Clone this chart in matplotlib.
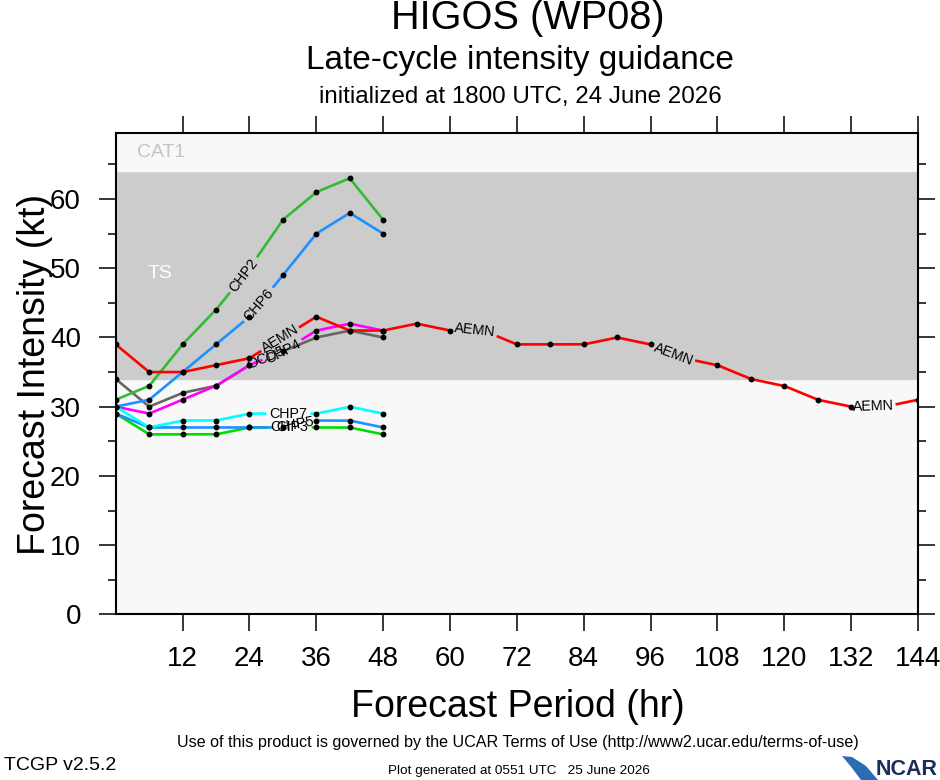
import numpy as np
import matplotlib
matplotlib.use("Agg")
import matplotlib.pyplot as plt
from matplotlib.patches import Polygon

plt.rcParams['font.family'] = ['Liberation Sans', 'DejaVu Sans']

# forecast hours
hours = [0, 6, 12, 18, 24, 30, 36, 42, 48]
hours_aemn = list(range(0, 145, 6))

# intensity (kt)
aemn = [39, 35, 35, 36, 37, 40, 43, 41, 41, 42, 41, 41, 39,
        39, 39, 40, 39, 37, 36, 34, 33, 31, 30, 30, 31]
chp2 = [31, 33, 39, 44, 50, 57, 61, 63, 57]
chp6 = [30, 31, 35, 39, 43, 49, 55, 58, 55]
chp4 = [30, 29, 31, 33, 36, 38, 41, 42, 41]
ocd5 = [34, 30, 32, 33, 36, 38, 40, 41, 40]
chp7 = [30, 27, 28, 28, 29, 29, 29, 30, 29]
chp5 = [29, 27, 27, 27, 27, 27, 28, 28, 27]
chp3 = [29, 26, 26, 26, 27, 27, 27, 27, 26]

# (name, hours, values, colour, label positions in hours)
models = [
    ("OCD5", hours, ocd5, "#666666", [27]),
    ("CHP4", hours, chp4, "#ff00ff", [30]),
    ("CHP3", hours, chp3, "#00dd00", [31.2]),
    ("CHP5", hours, chp5, "#1e90ff", [32.2]),
    ("CHP7", hours, chp7, "#00ffff", [31]),
    ("CHP6", hours, chp6, "#1e90ff", [25.7]),
    ("CHP2", hours, chp2, "#33bb33", [23]),
    ("AEMN", hours_aemn, aemn, "#ff0000", [29.5, 64.5, 100.2, 136]),
]

xticks = list(range(12, 145, 12))
yticks = list(range(0, 61, 10))

fig = plt.figure(figsize=(9.4, 7.8), dpi=100)
ax = fig.add_axes([0.1231, 0.2124, 0.8535, 0.6167])
ax.set_xlim(0, 144)
ax.set_ylim(0, 69.5)

# intensity category bands
ax.axhspan(0, 34, color="#f8f8f8", zorder=0)
ax.axhspan(34, 64, color="#cccccc", zorder=0)
ax.axhspan(64, 70, color="#f8f8f8", zorder=0)
ax.text(3.8, 66.7, "CAT1", color="#c4c4c4", fontsize=14, va="center", ha="left")
ax.text(5.8, 49.3, "TS", color="white", fontsize=14, va="center", ha="left")

GAP_PX = 22


def draw_model(name, x, y, color, lab_xs):
    x = np.asarray(x, float)
    y = np.asarray(y, float)
    xs = np.linspace(x[0], x[-1], 3000)
    ys = np.interp(xs, x, y)
    pix = ax.transData.transform(np.column_stack([xs, ys]))
    pts = ax.transData.transform(np.column_stack([x, y]))
    ys_line = ys.copy()
    keep = np.ones(len(x), bool)
    centers = []
    for lx in lab_xs:
        ly = np.interp(lx, x, y)
        c = ax.transData.transform((lx, ly))
        d = np.hypot(pix[:, 0] - c[0], pix[:, 1] - c[1])
        ys_line[d < GAP_PX] = np.nan
        keep &= np.hypot(pts[:, 0] - c[0], pts[:, 1] - c[1]) > 12
        a = ax.transData.transform((lx - 3, np.interp(lx - 3, x, y)))
        b = ax.transData.transform((lx + 3, np.interp(lx + 3, x, y)))
        ang = np.degrees(np.arctan2(b[1] - a[1], b[0] - a[0]))
        centers.append((lx, ly, ang))
    ax.plot(xs, ys_line, color=color, lw=1.9, zorder=3, solid_capstyle="butt")
    ax.plot(x[keep], y[keep], "o", color="black", ms=3.2, zorder=4)
    for lx, ly, ang in centers:
        ax.text(lx, ly, name, rotation=ang, rotation_mode="anchor",
                ha="center", va="center", fontsize=10.3, zorder=5)


for name, x, y, color, labs in models:
    draw_model(name, x, y, color, labs)

ax.set_xticks(xticks)
ax.set_xticklabels([str(t) for t in xticks])
ax.set_yticks(yticks)
ax.set_yticks(list(range(5, 70, 10)), minor=True)
ax.tick_params(axis="both", which="both", direction="out", top=True, right=True,
               labeltop=False, labelright=False, width=1.1)
ax.tick_params(axis="both", which="major", length=12, labelsize=20)
ax.tick_params(axis="both", which="minor", length=6)
ax.tick_params(axis="x", pad=11)
ax.tick_params(axis="y", pad=13)
for s in ax.spines.values():
    s.set_linewidth(1.5)

# titles
fig.text(0.5617, 0.9763, "HIGOS (WP08)", fontsize=28.6, ha="center", va="center")
fig.text(0.553, 0.9218, "Late-cycle intensity guidance", fontsize=24, ha="center", va="center")
fig.text(0.554, 0.8756, "initialized at 1800 UTC, 24 June 2026", fontsize=17.4,
         ha="center", va="center")
fig.text(0.037, 0.5199, "Forecast Intensity (kt)", fontsize=27, rotation=90,
         ha="center", va="center")
fig.text(0.5505, 0.0936, "Forecast Period (hr)", fontsize=27, ha="center", va="center")

# footer
fig.text(0.551, 0.0487, "Use of this product is governed by the UCAR Terms of Use "
         "(http://www2.ucar.edu/terms-of-use)", fontsize=11.6, ha="center", va="center")
fig.text(0.004, 0.019, "TCGP v2.5.2", fontsize=14, ha="left", va="center")
fig.text(0.552, 0.0115, "Plot generated at 0551 UTC   25 June 2026", fontsize=9.7,
         ha="center", va="center")

# NCAR logo
W, H = 940.0, 780.0
swoosh = [(842, 756), (852, 757), (866, 766), (878, 780), (861, 780), (852, 768)]
fig.patches.append(Polygon([(px / W, 1 - py / H) for px, py in swoosh],
                           closed=True, transform=fig.transFigure,
                           facecolor="#2b6cb3", edgecolor="none"))
fig.text(0.997, 0.0135, "NCAR", fontsize=15.5, fontweight="bold", color="#1b2d5c",
         ha="right", va="center")

fig.savefig("out.png", dpi=100)
